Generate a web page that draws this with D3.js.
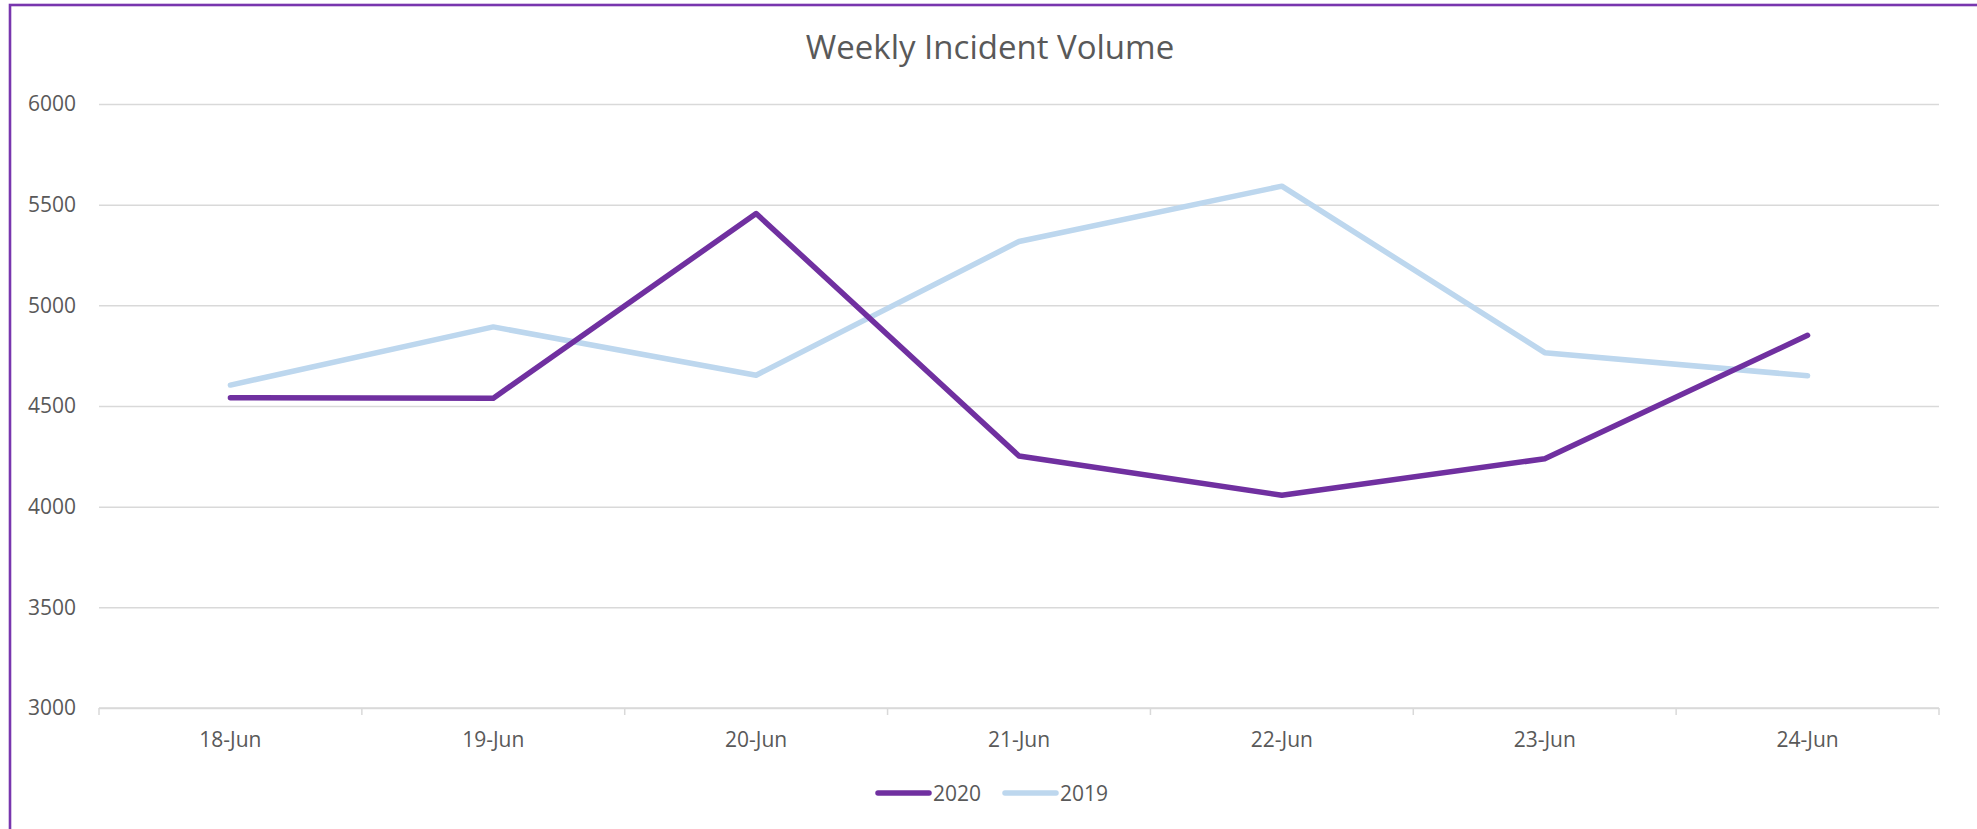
<!DOCTYPE html>
<html>
<head>
<meta charset="utf-8">
<script src="https://cdn.jsdelivr.net/npm/d3@7"></script>
<style>
  body { margin: 0; background: #fff; }
  text { font-family: "Open Sans", sans-serif; fill: #595959; }
</style>
</head>
<body>
<div id="chart"></div>
<script>
const days = ['18-Jun', '19-Jun', '20-Jun', '21-Jun', '22-Jun', '23-Jun', '24-Jun']
const values2020 = [4541, 4539, 5456, 4252, 4057, 4238, 4851]
const values2019 = [4604, 4893, 4653, 5317, 5592, 4765, 4650]
const yTicks = [3000, 3500, 4000, 4500, 5000, 5500, 6000]

const series = [
    { name: '2020', values: values2020, color: '#7030A0' },
    { name: '2019', values: values2019, color: '#BDD7EE' }
]

const W = 1977, H = 829
const margin = { top: 104, right: 38, bottom: 121, left: 99 }
const width = W - margin.left - margin.right
const height = H - margin.top - margin.bottom

const root = d3.select('#chart').append('svg')
    .attr('width', W)
    .attr('height', H)

// frame (only top / left visible in the crop)
root.append('rect')
    .attr('x', 10).attr('y', 5)
    .attr('width', W + 20).attr('height', H + 20)
    .attr('fill', 'none')
    .attr('stroke', '#7836AE')
    .attr('stroke-width', 2.6)

root.append('text')
    .attr('x', 990)
    .attr('y', 59)
    .attr('text-anchor', 'middle')
    .style('font-size', '33px')
    .text('Weekly Incident Volume')

const svg = root.append('g')
    .attr('transform', 'translate(' + margin.left + ',' + margin.top + ')')

const x = d3.scaleBand()
    .range([0, width])
    .domain(days)

const y = d3.scaleLinear()
    .range([height, 0])
    .domain([3000, 6000])

// grid + y labels
const yAxis = svg.append('g')
    .call(d3.axisLeft(y).tickValues(yTicks).tickFormat(d3.format('d')).tickSize(-width).tickPadding(23))
yAxis.select('.domain').remove()
yAxis.selectAll('line').attr('stroke', '#d9d9d9').attr('stroke-width', 1.5)
yAxis.selectAll('text').style('font-size', '21px').attr('fill', '#595959')

// x axis with ticks between categories
const xAxis = svg.append('g')
    .attr('transform', 'translate(0,' + height + ')')
xAxis.append('line')
    .attr('x1', 0).attr('x2', width)
    .attr('stroke', '#d9d9d9').attr('stroke-width', 1.5)
xAxis.selectAll('.tk')
    .data(days.concat(['end']))
    .enter().append('line')
    .attr('x1', (d, i) => i < days.length ? x(d) : width)
    .attr('x2', (d, i) => i < days.length ? x(d) : width)
    .attr('y1', 0).attr('y2', 7)
    .attr('stroke', '#d9d9d9').attr('stroke-width', 1.5)
xAxis.selectAll('.lbl')
    .data(days)
    .enter().append('text')
    .attr('x', d => x(d) + x.bandwidth() / 2)
    .attr('y', 39)
    .attr('text-anchor', 'middle')
    .style('font-size', '21px')
    .text(d => d)

const line = d3.line()
    .x((d, i) => x(days[i]) + x.bandwidth() / 2)
    .y(d => y(d))

// purple sits on top in the picture
series.slice().reverse().forEach(s => {
    svg.append('path')
        .datum(s.values)
        .attr('d', line)
        .attr('fill', 'none')
        .attr('stroke', s.color)
        .attr('stroke-width', 5.5)
        .attr('stroke-linejoin', 'round')
        .attr('stroke-linecap', 'round')
})

// legend
const legend = root.append('g').attr('transform', 'translate(876,793)')
const legendX = [0, 127]
series.forEach((s, i) => {
    const g = legend.append('g').attr('transform', 'translate(' + legendX[i] + ',0)')
    g.append('line')
        .attr('x1', 2).attr('x2', 53)
        .attr('stroke', s.color)
        .attr('stroke-width', 5.5)
        .attr('stroke-linecap', 'round')
    g.append('text')
        .attr('x', 57)
        .attr('y', 7.5)
        .style('font-size', '21px')
        .text(s.name)
})
</script>
</body>
</html>
